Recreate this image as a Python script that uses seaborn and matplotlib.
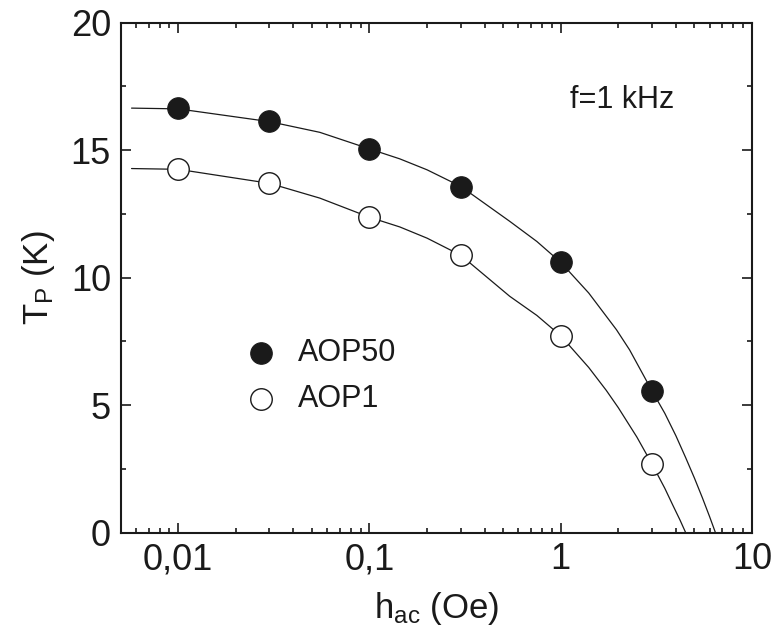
import numpy as np
import pandas as pd
import matplotlib
matplotlib.use("Agg")
import matplotlib.pyplot as plt
import seaborn as sns
from matplotlib.ticker import LogLocator, FixedLocator, FixedFormatter, MultipleLocator, NullFormatter

# ---- data ----
h_points = [0.01, 0.03, 0.1, 0.3, 1.0, 3.0]
tp_aop50 = [16.66, 16.14, 15.06, 13.55, 10.60, 5.56]
tp_aop1 = [14.27, 13.70, 12.37, 10.90, 7.72, 2.69]

# fitted curves
fit50_h = [0.0057, 0.01, 0.03, 0.055, 0.1, 0.144, 0.2, 0.3, 0.541, 0.75, 1.0, 1.4,
           1.955, 2.29, 3.0, 3.5, 4.0, 4.5, 5.0, 5.5, 6.0, 6.44]
fit50_t = [16.65, 16.62, 16.12, 15.70, 15.05, 14.66, 14.23, 13.58, 12.21, 11.42, 10.60, 9.40,
           7.96, 7.17, 5.56, 4.68, 3.80, 2.94, 2.14, 1.37, 0.63, 0.0]
fit1_h = [0.0057, 0.01, 0.03, 0.055, 0.1, 0.144, 0.2, 0.3, 0.541, 0.75, 1.0, 1.4,
          1.73, 2.0, 2.5, 3.0, 3.5, 3.87, 4.2, 4.5]
fit1_t = [14.28, 14.25, 13.70, 13.12, 12.37, 11.99, 11.55, 10.88, 9.27, 8.52, 7.72, 6.48,
          5.58, 4.90, 3.75, 2.69, 1.74, 1.05, 0.50, 0.0]

series_names = ["AOP50", "AOP1"]
x_ticks = [0.01, 0.1, 1, 10]
x_ticklabels = ["0,01", "0,1", "1", "10"]
y_ticks = [0, 5, 10, 15, 20]
annotation = "f=1 kHz"
x_label = r"h$_{\mathrm{ac}}$ (Oe)"
y_label = r"T$_{\mathrm{P}}$ (K)"

# ---- style ----
sns.set_style("ticks")
plt.rcParams["font.family"] = ["Liberation Sans", "DejaVu Sans"]
plt.rcParams["mathtext.fontset"] = "custom"
plt.rcParams["mathtext.rm"] = "Liberation Sans"
plt.rcParams["mathtext.it"] = "Liberation Sans:italic"

ink = "#1a1a1a"
fig = plt.figure(figsize=(7.78, 6.41), dpi=100)
ax = fig.add_axes([0.1551, 0.1690, 0.9666 - 0.1551, 0.9646 - 0.1690])

fit50 = pd.DataFrame({"h": fit50_h, "T": fit50_t})
fit1 = pd.DataFrame({"h": fit1_h, "T": fit1_t})
sns.lineplot(data=fit50, x="h", y="T", ax=ax, color=ink, lw=0.9, sort=False, estimator=None)
sns.lineplot(data=fit1, x="h", y="T", ax=ax, color=ink, lw=0.9, sort=False, estimator=None)

pts = pd.DataFrame({
    "h": h_points + h_points,
    "T": tp_aop50 + tp_aop1,
    "sample": [series_names[0]] * len(h_points) + [series_names[1]] * len(h_points),
})
d50 = pts[pts["sample"] == series_names[0]]
d1 = pts[pts["sample"] == series_names[1]]
sns.scatterplot(data=d50, x="h", y="T", ax=ax, s=240, color=ink,
                edgecolor=ink, linewidth=0.8, label=series_names[0], zorder=5)
sns.scatterplot(data=d1, x="h", y="T", ax=ax, s=240, facecolor="white",
                edgecolor=ink, linewidth=1.0, label=series_names[1], zorder=5)

ax.set_xscale("log")
ax.set_xlim(0.005, 10)
ax.set_ylim(0, 20)
ax.xaxis.set_major_locator(FixedLocator(x_ticks))
ax.xaxis.set_major_formatter(FixedFormatter(x_ticklabels))
ax.xaxis.set_minor_locator(LogLocator(base=10, subs=np.arange(2, 10), numticks=20))
ax.xaxis.set_minor_formatter(NullFormatter())
ax.yaxis.set_major_locator(FixedLocator(y_ticks))
ax.yaxis.set_minor_locator(MultipleLocator(2.5))

ax.tick_params(which="both", direction="in", top=True, right=True, width=1.2, color=ink)
ax.tick_params(which="major", length=7, labelsize=26, pad=7, labelcolor=ink)
ax.tick_params(which="minor", length=3.5)
for sp in ax.spines.values():
    sp.set_linewidth(1.5)
    sp.set_color(ink)

ax.set_xlabel(x_label, fontsize=25, color=ink, labelpad=9)
ax.set_ylabel(y_label, fontsize=25, color=ink, labelpad=10)

ax.text(0.795, 0.848, annotation, transform=ax.transAxes, fontsize=22, color=ink,
        ha="center", va="center")

leg = ax.legend(loc="center left", bbox_to_anchor=(0.155, 0.307), frameon=False,
                fontsize=22, handletextpad=0.2, labelspacing=0.5, borderaxespad=0,
                markerscale=1.0)
for t in leg.get_texts():
    t.set_color(ink)

fig.savefig("out.png", dpi=100)
